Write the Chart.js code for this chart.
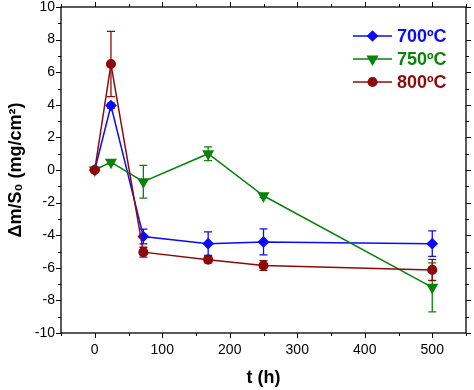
<!DOCTYPE html>
<html>
<head>
<meta charset="utf-8">
<script src="https://cdn.jsdelivr.net/npm/chart.js@4.4.0/dist/chart.umd.min.js"></script>
<style>
  html, body { margin: 0; padding: 0; background: #fff; }
  #wrap { width: 474px; height: 390px; }
</style>
</head>
<body>
<div id="wrap"><canvas id="c" width="474" height="390"></canvas></div>
<script>
// oxidation time (h)
const times = [0, 24, 72, 168, 250, 500];

// mass change per area (mg/cm2) and error bars
const s700 = [0, 3.95, -4.08, -4.52, -4.41, -4.52];
const e700 = [0, 0.15, 0.45, 0.72, 0.8, 0.78];
const s750 = [0, 0.48, -0.72, 1.0, -1.58, -7.2];
const e750 = [0, 0.1, 1.0, 0.42, 0.12, 1.5];
const s800 = [0, 6.5, -5.04, -5.5, -5.86, -6.13];
const e800 = [0, 2.0, 0.3, 0.2, 0.3, 0.65];

const labels = ['700ºC', '750ºC', '800ºC'];
const colors = ['#0a0aff', '#0b820b', '#8e0a0a'];

const xTickLabels = [0, 100, 200, 300, 400, 500];
const yTickLabels = [-10, -8, -6, -4, -2, 0, 2, 4, 6, 8, 10];

const pts = (arr) => arr.map((v, i) => ({ x: times[i], y: v }));
const errs = [e700, e750, e800];

const font = 'Liberation Sans, Arial, sans-serif';

// error bars, drawn under the markers
const errorBars = {
  id: 'errorBars',
  afterDatasetsDraw(chart) {
    const ctx = chart.ctx;
    const ys = chart.scales.y;
    chart.data.datasets.forEach((ds, i) => {
      const meta = chart.getDatasetMeta(i);
      ctx.save();
      ctx.strokeStyle = colors[i];
      ctx.lineWidth = 1.3;
      meta.data.forEach((p, j) => {
        const e = errs[i][j];
        if (!e) return;
        const v = ds.data[j].y;
        const yt = ys.getPixelForValue(v + e);
        const yb = ys.getPixelForValue(v - e);
        ctx.beginPath();
        ctx.moveTo(p.x, yt); ctx.lineTo(p.x, yb);
        ctx.moveTo(p.x - 4, yt); ctx.lineTo(p.x + 4, yt);
        ctx.moveTo(p.x - 4, yb); ctx.lineTo(p.x + 4, yb);
        ctx.stroke();
      });
      ctx.restore();
    });
  }
};

// frame with outward ticks on all four sides, and the legend
const frame = {
  id: 'frame',
  afterDraw(chart) {
    const ctx = chart.ctx;
    const { left, right, top, bottom } = chart.chartArea;
    const xs = chart.scales.x, ys = chart.scales.y;
    ctx.save();
    ctx.strokeStyle = '#000';
    ctx.lineWidth = 1.3;
    ctx.strokeRect(left, top, right - left, bottom - top);
    ctx.lineWidth = 1;
    ctx.beginPath();
    xs.ticks.forEach(t => {
      const px = Math.round(xs.getPixelForValue(t.value)) + 0.5;
      const len = xTickLabels.includes(t.value) ? 5 : 3;
      ctx.moveTo(px, bottom); ctx.lineTo(px, bottom + len);
      ctx.moveTo(px, top); ctx.lineTo(px, top - len);
    });
    ys.ticks.forEach(t => {
      const py = Math.round(ys.getPixelForValue(t.value)) + 0.5;
      const len = yTickLabels.includes(t.value) ? 5 : 3;
      ctx.moveTo(left, py); ctx.lineTo(left - len, py);
      ctx.moveTo(right, py); ctx.lineTo(right + len, py);
    });
    ctx.stroke();

    // legend
    chart.data.datasets.forEach((ds, i) => {
      const y = 36 + i * 23;
      ctx.strokeStyle = colors[i];
      ctx.fillStyle = colors[i];
      ctx.lineWidth = 1.5;
      ctx.beginPath();
      ctx.moveTo(353, y); ctx.lineTo(392, y);
      ctx.stroke();
      Chart.helpers.drawPoint(ctx, {
        pointStyle: ds.pointStyle, radius: ds.pointRadius, rotation: ds.pointRotation || 0, borderWidth: 1
      }, 372.5, y);
      ctx.font = 'bold 18px ' + font;
      ctx.textBaseline = 'middle';
      ctx.textAlign = 'left';
      ctx.fillText(labels[i], 397, y + 1);
    });
    ctx.restore();
  }
};

new Chart(document.getElementById('c'), {
  type: 'line',
  data: {
    datasets: [
      { label: labels[0], data: pts(s700), borderColor: colors[0], backgroundColor: colors[0],
        borderWidth: 1.5, pointStyle: 'rectRot', pointRadius: 4.8, order: 2 },
      { label: labels[1], data: pts(s750), borderColor: colors[1], backgroundColor: colors[1],
        borderWidth: 1.5, pointStyle: 'triangle', pointRotation: 180, pointRadius: 5.5, order: 1 },
      { label: labels[2], data: pts(s800), borderColor: colors[2], backgroundColor: colors[2],
        borderWidth: 1.5, pointStyle: 'circle', pointRadius: 4.3, order: 0 }
    ]
  },
  options: {
    responsive: false,
    animation: false,
    devicePixelRatio: 1,
    layout: { padding: { left: 0, right: 8, top: 7, bottom: 1 } },
    plugins: { legend: { display: false }, tooltip: { enabled: false } },
    elements: { line: { tension: 0 }, point: { borderWidth: 1 } },
    scales: {
      x: {
        type: 'linear', min: -50, max: 550,
        grid: { display: false, drawTicks: false },
        border: { display: false },
        ticks: {
          stepSize: 50, autoSkip: false, maxRotation: 0, padding: 9,
          color: '#000', font: { family: font, size: 14 },
          callback: v => xTickLabels.includes(v) ? String(v) : ''
        },
        title: { display: true, text: 't (h)', color: '#000', padding: 0,
          font: { family: font, size: 18, weight: 'bold' } },
        afterFit(s) { s.height = 56; s.paddingLeft = 0; s.paddingRight = 0; }
      },
      y: {
        type: 'linear', min: -10, max: 10,
        grid: { display: false, drawTicks: false },
        border: { display: false },
        ticks: {
          stepSize: 1, autoSkip: false, padding: 6,
          color: '#000', font: { family: font, size: 14 },
          callback: v => yTickLabels.includes(v) ? String(v) : ''
        },
        title: { display: true, text: 'Δm/S₀ (mg/cm²)', color: '#000', padding: { top: 5, bottom: 0 },
          font: { family: font, size: 18, weight: 'bold' } },
        afterFit(s) { s.width = 61; s.paddingTop = 0; s.paddingBottom = 0; }
      }
    }
  },
  plugins: [errorBars, frame]
});
</script>
</body>
</html>
